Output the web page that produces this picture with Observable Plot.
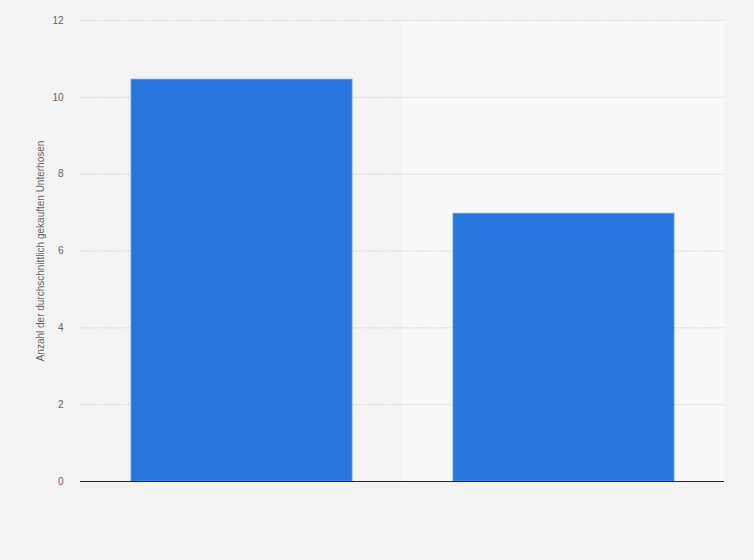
<!DOCTYPE html>
<html>
<head>
<meta charset="utf-8">
<script src="https://cdn.jsdelivr.net/npm/d3@7"></script>
<script src="https://cdn.jsdelivr.net/npm/@observablehq/plot@0.6"></script>
<style>
  html, body { margin: 0; padding: 0; background: #f3f3f3; }
  #chart { width: 754px; height: 560px; }
  svg { font-family: "Liberation Sans", Arial, sans-serif; }
</style>
</head>
<body>
<div id="chart"></div>
<script>
const categories = ["Männer", "Frauen"];
const values = [10.46, 6.97];
const yTicks = [0, 2, 4, 6, 8, 10, 12];
const yLabel = "Anzahl der durchschnittlich gekauften Unterhosen";

const data = categories.map((c, i) => ({category: c, value: values[i]}));

const padInner = 0.314, padOuter = 0.157;
const step = (754 - 80 - 30) / (categories.length - padInner + 2 * padOuter);
const bandInset = -(step * padInner) / 2;

const chart = Plot.plot({
  width: 754,
  height: 560,
  marginLeft: 80,
  marginRight: 30,
  marginTop: 20,
  marginBottom: 79,
  style: {background: "transparent", fontFamily: "Liberation Sans, Arial, sans-serif"},
  x: {domain: categories, paddingInner: padInner, paddingOuter: padOuter, axis: null},
  y: {domain: [0, 12], ticks: yTicks, label: null},
  marks: [
    Plot.barY([categories[1]], {x: d => d, y1: 0, y2: 12, fill: "#f8f8f8", insetLeft: bandInset, insetRight: bandInset}),
    Plot.gridY(yTicks.filter(t => t > 0), {stroke: "#cfcfcf", strokeOpacity: 1, strokeDasharray: "1.5,1.5"}),
    Plot.axisY({ticks: yTicks, tickSize: 0, tickPadding: 17, fontSize: 10, color: "#666", label: null}),
    Plot.text([yLabel], {frameAnchor: "left", dx: -40, rotate: -90, fontSize: 10, fill: "#666", textAnchor: "middle"}),
    Plot.barY(data, {x: "category", y: "value", fill: "#2876dd", stroke: "#5d9cec", strokeWidth: 0.8}),
    Plot.ruleY([0], {stroke: "#222", strokeWidth: 1.2})
  ]
});
document.getElementById("chart").appendChild(chart);
</script>
</body>
</html>
